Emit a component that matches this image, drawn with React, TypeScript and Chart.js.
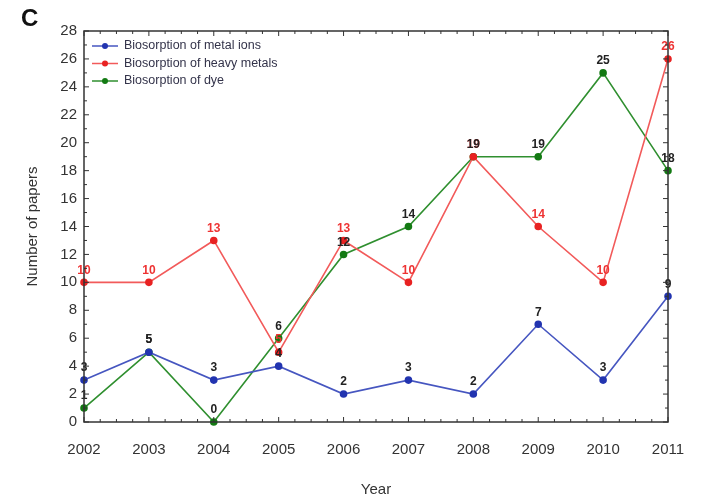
import React, { useEffect, useRef } from "react";
import { Chart, registerables } from "chart.js";
Chart.register(...registerables);

const years = ["2002", "2003", "2004", "2005", "2006", "2007", "2008", "2009", "2010", "2011"];
const metalIons = [3, 5, 3, 4, 2, 3, 2, 7, 3, 9];
const heavyMetals = [10, 10, 13, 5, 13, 10, 19, 14, 10, 26];
const dye = [1, 5, 0, 6, 12, 14, 19, 19, 25, 18];
const seriesNames = ["Biosorption of metal ions", "Biosorption of heavy metals", "Biosorption of dye"];
const yMin = 0;
const yMax = 28;
const yStep = 2;

const FONT = "'Liberation Sans', Arial, sans-serif";

const lineColors = ["#4656c0", "#f25a5a", "#2f8f2f"];
const pointColors = ["#2234b0", "#e82222", "#137a13"];
const labelColors = ["#222222", "#ee3333", "#222222"];

const decorPlugin = {
  id: "decor",
  afterDraw(chart: any) {
    const { ctx, chartArea: ca, scales } = chart;
    const xs = scales.x;
    const ys = scales.y;
    ctx.save();
    ctx.strokeStyle = "#333333";
    ctx.lineWidth = 1.5;
    ctx.strokeRect(ca.left, ca.top, ca.right - ca.left, ca.bottom - ca.top);
    ctx.lineWidth = 1;
    ctx.beginPath();
    for (let i = 0; i < years.length; i++) {
      const x = xs.getPixelForValue(i);
      ctx.moveTo(x, ca.bottom); ctx.lineTo(x, ca.bottom - 5);
      ctx.moveTo(x, ca.top); ctx.lineTo(x, ca.top + 5);
      if (i < years.length - 1) {
        const xn = xs.getPixelForValue(i + 1);
        for (let q = 1; q < 4; q++) {
          const xm = x + ((xn - x) * q) / 4;
          ctx.moveTo(xm, ca.bottom); ctx.lineTo(xm, ca.bottom - 3);
          ctx.moveTo(xm, ca.top); ctx.lineTo(xm, ca.top + 3);
        }
      }
    }
    for (let v = yMin; v <= yMax; v += 1) {
      const y = ys.getPixelForValue(v);
      const len = v % yStep === 0 ? 5 : 3;
      ctx.moveTo(ca.left, y); ctx.lineTo(ca.left + len, y);
      ctx.moveTo(ca.right, y); ctx.lineTo(ca.right - len, y);
    }
    ctx.stroke();

    ctx.font = `12.5px ${FONT}`;
    ctx.textBaseline = "middle";
    chart.data.datasets.forEach((ds: any, i: number) => {
      const y = ca.top + 15 + i * 17.5;
      const x0 = ca.left + 8;
      ctx.strokeStyle = lineColors[i];
      ctx.lineWidth = 1.5;
      ctx.beginPath();
      ctx.moveTo(x0, y); ctx.lineTo(x0 + 26, y);
      ctx.stroke();
      ctx.fillStyle = pointColors[i];
      ctx.beginPath();
      ctx.arc(x0 + 13, y, 3, 0, Math.PI * 2);
      ctx.fill();
      ctx.fillStyle = "#33334a";
      ctx.textAlign = "left";
      ctx.fillText(ds.label, x0 + 32, y);
    });

    ctx.fillStyle = "#111111";
    ctx.font = `bold 24px ${FONT}`;
    ctx.textAlign = "left";
    ctx.textBaseline = "middle";
    ctx.fillText("C", 21, 19);
    ctx.restore();
  },
  afterDatasetsDraw(chart: any) {
    const { ctx } = chart;
    ctx.save();
    ctx.font = `bold 12px ${FONT}`;
    ctx.textAlign = "center";
    ctx.textBaseline = "middle";
    chart.data.datasets.forEach((ds: any, i: number) => {
      const meta = chart.getDatasetMeta(i);
      ctx.fillStyle = labelColors[i];
      meta.data.forEach((pt: any, j: number) => {
        ctx.fillText(String(ds.data[j]), pt.x, pt.y - 12);
      });
    });
    ctx.restore();
  },
};

export default function App() {
  const ref = useRef<HTMLCanvasElement>(null);
  useEffect(() => {
    if (!ref.current) return;
    const seriesData = [metalIons, heavyMetals, dye];
    const chart = new Chart(ref.current, {
      type: "line",
      data: {
        labels: years,
        datasets: seriesData.map((d, i) => ({
          label: seriesNames[i],
          data: d,
          borderColor: lineColors[i],
          backgroundColor: pointColors[i],
          pointBackgroundColor: pointColors[i],
          pointBorderColor: pointColors[i],
          pointRadius: 3,
          borderWidth: 1.6,
          tension: 0,
          clip: false as any,
        })),
      },
      options: {
        animation: false,
        responsive: false,
        devicePixelRatio: 1,
        layout: { padding: { top: 31, right: 41, left: 0, bottom: 0 } },
        plugins: { legend: { display: false }, tooltip: { enabled: false } },
        scales: {
          x: {
            type: "category",
            offset: false,
            grid: { display: false, drawTicks: false },
            border: { display: false },
            ticks: { color: "#333333", font: { family: FONT, size: 15 }, padding: 19, maxRotation: 0, autoSkip: false },
            title: { display: true, text: "Year", color: "#333333", font: { family: FONT, size: 15 }, padding: { top: 0, bottom: 1 } },
            afterFit: (s: any) => { s.height = 78; },
          },
          y: {
            min: yMin,
            max: yMax,
            grid: { display: false, drawTicks: false },
            border: { display: false },
            ticks: { stepSize: yStep, color: "#333333", font: { family: FONT, size: 15 }, padding: 7 },
            title: { display: true, text: "Number of papers", color: "#333333", font: { family: FONT, size: 15 }, padding: { top: 24, bottom: 0 } },
            afterFit: (s: any) => { s.width = 84; },
          },
        },
      },
      plugins: [decorPlugin],
    });
    return () => chart.destroy();
  }, []);
  return (
    <div style={{ position: "fixed", left: 0, top: 0, width: 709, height: 500, background: "#fff" }}>
      <canvas ref={ref} width={709} height={500} />
    </div>
  );
}
